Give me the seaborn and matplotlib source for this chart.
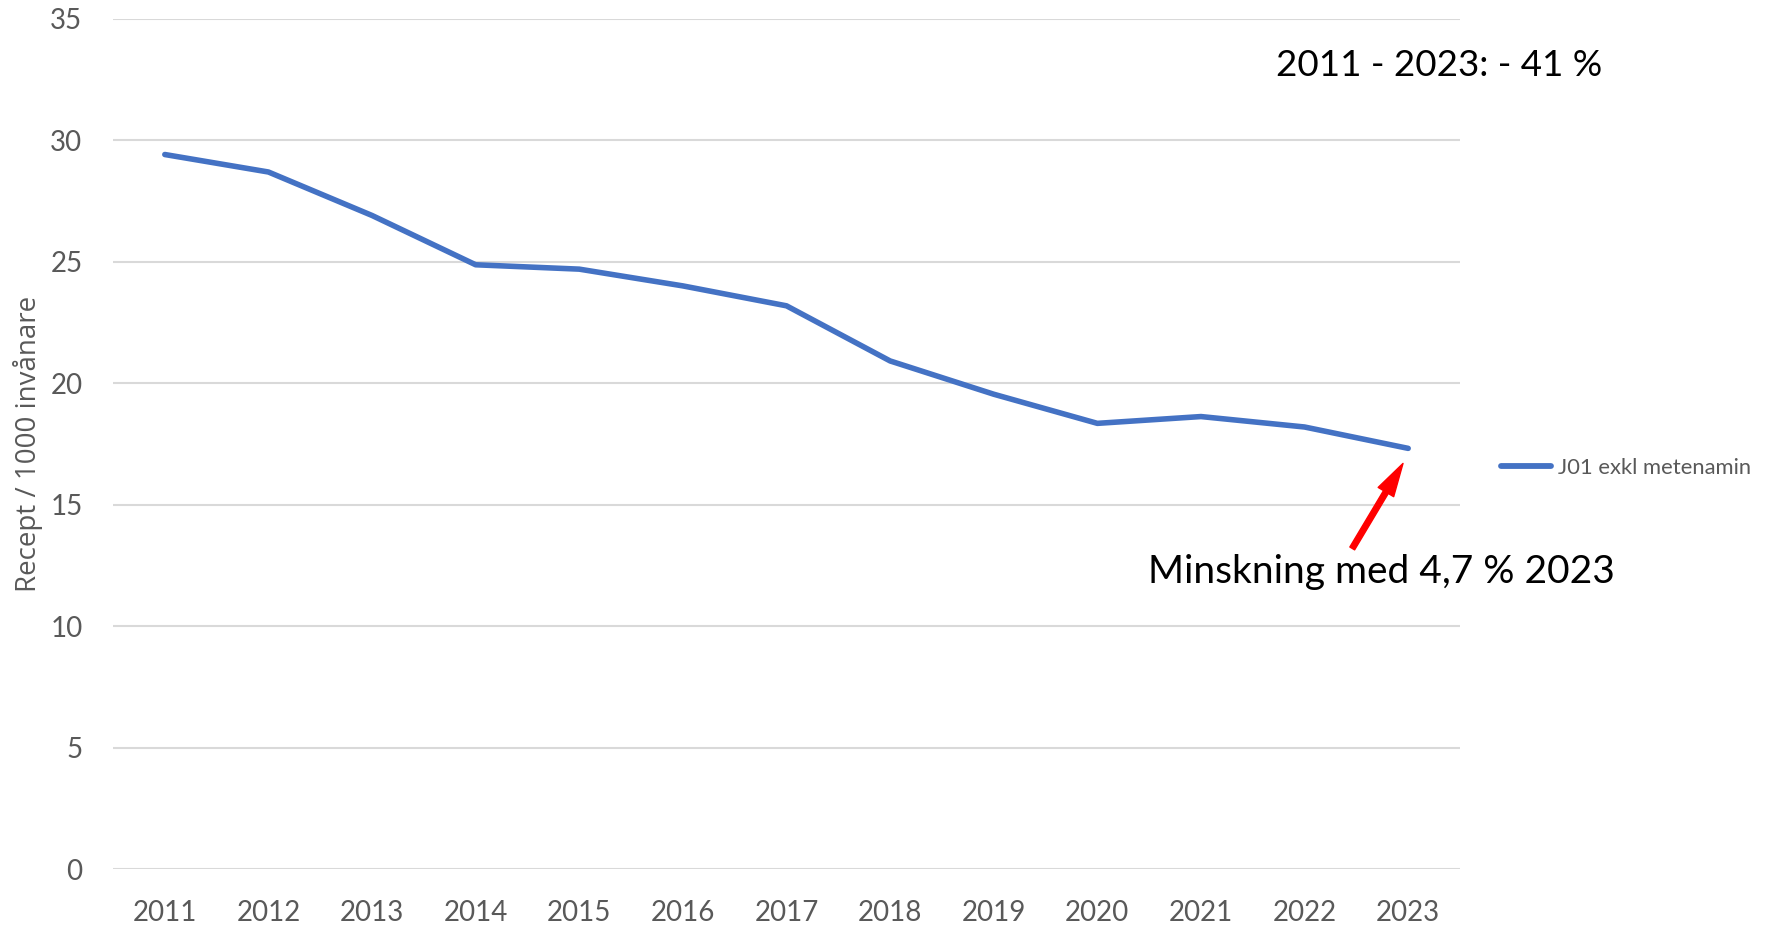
import matplotlib
matplotlib.use("Agg")
import matplotlib.pyplot as plt
import seaborn as sns
import pandas as pd

years = [2011, 2012, 2013, 2014, 2015, 2016, 2017, 2018, 2019, 2020, 2021, 2022, 2023]
values = [29.42, 28.70, 26.91, 24.88, 24.70, 24.01, 23.19, 20.92, 19.55, 18.35, 18.63, 18.20, 17.32]
series_name = "J01 exkl metenamin"
y_ticks = [0, 5, 10, 15, 20, 25, 30, 35]
y_label = "Recept / 1000 invånare"
note_total = "2011 - 2023: - 41 %"
note_year = "Minskning med 4,7 % 2023"

sns.set_theme(style="white")
plt.rcParams["font.family"] = ["Lato", "DejaVu Sans"]

df = pd.DataFrame({"År": years, "Värde": values, "Serie": series_name})

fig = plt.figure(figsize=(17.7, 9.25), dpi=100)
ax = fig.add_axes([113 / 1770, 56 / 925, 1347 / 1770, 850 / 925])

sns.lineplot(data=df, x="År", y="Värde", hue="Serie", palette=["#4472C4"],
             linewidth=4.0, ax=ax, legend=True)
for ln in ax.lines:
    ln.set_solid_capstyle("round")

ax.set_xlim(years[0] - 0.5, years[-1] + 0.5)
ax.set_ylim(0, 35)
ax.set_xticks(years)
ax.set_xticklabels([str(y) for y in years])
ax.set_yticks(y_ticks)
ax.yaxis.grid(True, color="#D9D9D9", linewidth=1.5)
ax.xaxis.grid(False)
for s in ax.spines.values():
    s.set_visible(False)
ax.tick_params(axis="both", length=0, labelsize=20, labelcolor="#595959")
ax.tick_params(axis="y", pad=22)
ax.tick_params(axis="x", pad=22)
ax.set_xlabel("")
ax.set_ylabel(y_label, fontsize=20, color="#595959", family=["Open Sans", "DejaVu Sans"])
ax.yaxis.set_label_coords(-0.052, 0.5)

leg = ax.legend(loc="center left", bbox_to_anchor=(1501 / 1770, 1 - 468 / 925),
                bbox_transform=fig.transFigure, frameon=False, borderpad=0,
                borderaxespad=0, handlelength=2.3, handletextpad=0.3,
                fontsize=15.8)
for t in leg.get_texts():
    t.set_color("#595959")
for h in leg.get_lines():
    h.set_linewidth(4.2)
    h.set_solid_capstyle("round")

fig.text(1439 / 1770, 1 - 65 / 925, note_total, ha="center", va="center",
         fontsize=26.5, color="black")
fig.text(1381 / 1770, 1 - 572 / 925, note_year, ha="center", va="center",
         fontsize=28, color="black")

ax.annotate("", xy=(2022.95, 16.7), xytext=(2022.46, 13.2),
            xycoords="data", textcoords="data",
            arrowprops=dict(arrowstyle="simple,head_length=1.2,head_width=0.65,tail_width=0.2",
                            color="red", mutation_scale=20, shrinkA=0, shrinkB=0),
            annotation_clip=False)

fig.savefig("out.png", dpi=100)
